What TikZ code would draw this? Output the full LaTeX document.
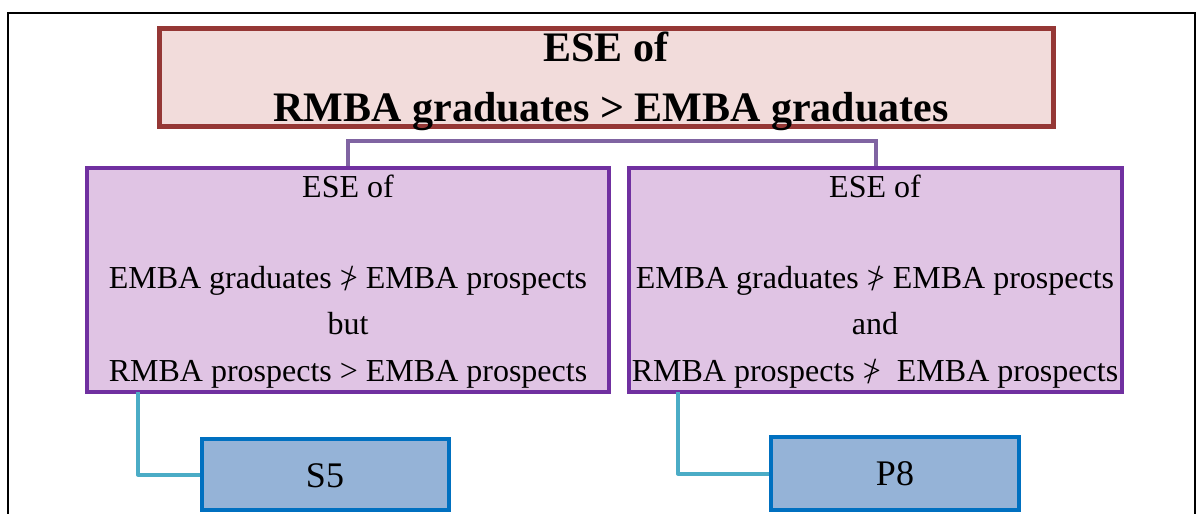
\documentclass[tikz,border=0pt]{standalone}
\usepackage{fontspec}
\setmainfont{Liberation Serif}
% "not greater than": a > struck through with a slash
\newcommand{\ngtsym}{\ooalign{>\cr\hidewidth\raisebox{-0.08em}{\scalebox{1}[1.15]{/}}\hidewidth\cr}}
\definecolor{topred}{HTML}{953735}
\definecolor{toppink}{HTML}{F2DCDB}
\definecolor{midpurple}{HTML}{7030A0}
\definecolor{midlilac}{HTML}{E0C4E4}
\definecolor{linkpurple}{HTML}{8064A2}
\definecolor{linkcyan}{HTML}{4BACC6}
\definecolor{leafblue}{HTML}{0070C0}
\definecolor{leaffill}{HTML}{95B3D7}
\tikzset{
  frame/.style={draw=black, line width=2pt},
  topbox/.style={draw=topred, fill=toppink, line width=5pt, inner sep=0pt},
  midbox/.style={draw=midpurple, fill=midlilac, line width=4.5pt, inner sep=0pt},
  leafbox/.style={draw=leafblue, fill=leaffill, line width=4.5pt, inner sep=0pt},
  linkmid/.style={draw=linkpurple, line width=4pt},
  linkleaf/.style={draw=linkcyan, line width=4pt, line join=round},
  headtxt/.style={font=\fontsize{42}{50}\selectfont\bfseries, inner sep=0pt, anchor=base},
  bodytxt/.style={font=\fontsize{32}{38}\selectfont, inner sep=0pt, anchor=base},
  leaftxt/.style={font=\fontsize{36}{40}\selectfont, inner sep=0pt, anchor=base},
}
\begin{document}
\begin{tikzpicture}[x=1pt, y=-1pt]
  \clip (0,0) rectangle (1197,514);
  \fill[white] (0,0) rectangle (1197,514);

  % outer frame (open at the bottom)
  \draw[frame] (8,530) -- (8,13) -- (1195,13) -- (1195,530);

  % anchor points of the connectors
  \coordinate (lhub) at (348,168);
  \coordinate (rhub) at (875.5,168);
  \coordinate (lroot) at (138,392);
  \coordinate (rroot) at (678,392);

  % connector joining the two branches
  \draw[linkmid] (lhub) -- ++(0,-27) -| (rhub);

  % boxes
  \node[topbox, minimum width=894pt, minimum height=98pt] (top) at (606,77) {};
  \node[midbox, minimum width=522pt, minimum height=224pt] (left) at (348,280) {};
  \node[midbox, minimum width=493pt, minimum height=224pt] (right) at (875.5,280) {};
  \node[leafbox, minimum width=247pt, minimum height=71pt] (s5) at (325.5,474.5) {};
  \node[leafbox, minimum width=248pt, minimum height=73pt] (p8) at (895,473.5) {};

  % connectors to the leaves
  \draw[linkleaf] (lroot) |- (s5.west);
  \draw[linkleaf] (rroot) |- (p8.west);

  % heading text
  \node[headtxt] (h1) at (606,61) {ESE of};
  \node[headtxt] (h2) at (611,121) {RMBA graduates > EMBA graduates};

  % left branch text
  \node[bodytxt] (l1) at (348,197) {ESE of};
  \node[bodytxt] (l2) at (348,288) {EMBA graduates \ngtsym{} EMBA prospects};
  \node[bodytxt] (l3) at (348,334) {but};
  \node[bodytxt] (l4) at (348,381) {RMBA prospects > EMBA prospects};

  % right branch text
  \node[bodytxt] (r1) at (875,197) {ESE of};
  \node[bodytxt] (r2) at (875,288) {EMBA graduates \ngtsym{} EMBA prospects};
  \node[bodytxt] (r3) at (875,334) {and};
  \node[bodytxt] (r4) at (875,381) {RMBA prospects \ngtsym{}\ \ EMBA prospects};

  % leaf labels
  \node[leaftxt] (t5) at (325,487) {S5};
  \node[leaftxt] (t8) at (895,485) {P8};
\end{tikzpicture}
\end{document}
